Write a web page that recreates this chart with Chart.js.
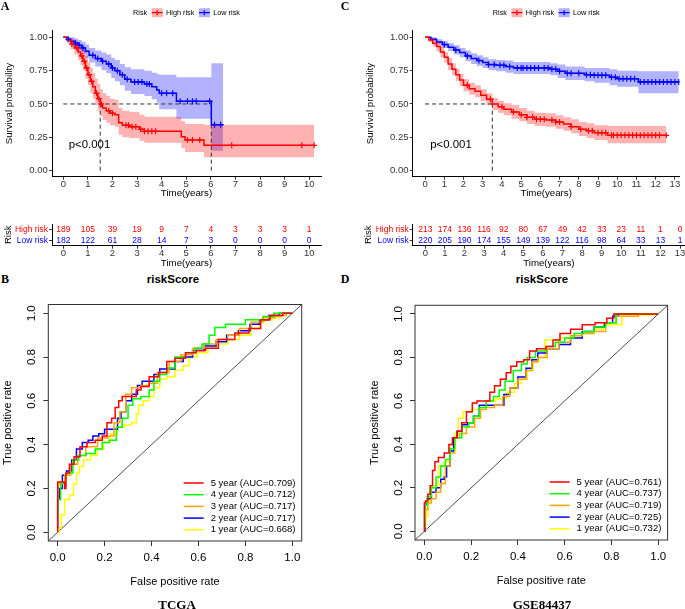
<!DOCTYPE html>
<html>
<head>
<meta charset="utf-8">
<script src="https://cdn.jsdelivr.net/npm/chart.js@4.4.0/dist/chart.umd.min.js"></script>
<style>
  body { margin: 0; background: #fff; }
  #fig { position: relative; width: 685px; height: 609px; overflow: hidden; background: #fff; }
  canvas { position: absolute; }
  .lbl { position: absolute; white-space: nowrap; line-height: 1; transform: translate(-50%, -50%); color: #000; }
  .letra { font: bold 12px "Liberation Serif", "Times New Roman", serif; }
  .sub { font: bold 11.5px "Liberation Sans", Arial, sans-serif; }
  .ds { font: bold 13px "Liberation Serif", "Times New Roman", serif; }
</style>
</head>
<body>
<div id="fig">
  <canvas id="kmA" width="340" height="200" style="left:0;top:0"></canvas>
  <canvas id="kmC" width="345" height="200" style="left:340px;top:0"></canvas>
  <canvas id="riskA" width="340" height="70" style="left:0;top:200px"></canvas>
  <canvas id="riskC" width="345" height="70" style="left:340px;top:200px"></canvas>
  <canvas id="rocB" width="340" height="309" style="left:0;top:300px"></canvas>
  <canvas id="rocD" width="345" height="309" style="left:340px;top:300px"></canvas>

  <div class="lbl letra" style="left:5px;top:6px">A</div>
  <div class="lbl letra" style="left:345px;top:6px">C</div>
  <div class="lbl letra" style="left:5px;top:279px">B</div>
  <div class="lbl letra" style="left:345px;top:279px">D</div>
  <div class="lbl sub" style="left:173px;top:279px">riskScore</div>
  <div class="lbl sub" style="left:542px;top:279px">riskScore</div>
  <div class="lbl ds" style="left:177px;top:605px">TCGA</div>
  <div class="lbl ds" style="left:542px;top:605px">GSE84437</div>
</div>
<script>
const sans = '"Liberation Sans", Arial, sans-serif'
Chart.defaults.font.family = sans
Chart.defaults.color = '#000'

// ---------- datos: Kaplan-Meier TCGA (A) ----------
const riskGroups = ['High risk', 'Low risk']

const aHighT  = [0, 0.15, 0.3, 0.45, 0.6, 0.7, 0.8, 0.9, 1.0, 1.1, 1.2, 1.3, 1.4, 1.5, 1.6, 1.75, 1.9, 2.1, 2.25, 2.4, 2.7, 3.1, 3.3, 4.8, 4.95, 5.72, 10.2]
const aHighS  = [1, 0.98, 0.95, 0.92, 0.89, 0.86, 0.82, 0.77, 0.72, 0.67, 0.63, 0.58, 0.54, 0.50, 0.47, 0.45, 0.43, 0.42, 0.36, 0.34, 0.33, 0.31, 0.295, 0.255, 0.23, 0.19, 0.19]
const aHighUp = [1, 1, 0.99, 0.97, 0.95, 0.93, 0.90, 0.86, 0.81, 0.77, 0.73, 0.69, 0.65, 0.61, 0.58, 0.56, 0.54, 0.53, 0.47, 0.45, 0.44, 0.42, 0.405, 0.37, 0.35, 0.345, 0.345]
const aHighLo = [1, 0.96, 0.91, 0.87, 0.83, 0.79, 0.75, 0.69, 0.64, 0.58, 0.54, 0.49, 0.45, 0.41, 0.38, 0.36, 0.34, 0.33, 0.27, 0.25, 0.245, 0.225, 0.21, 0.17, 0.14, 0.10, 0.10]
const aHighCens = [0.35, 0.55, 0.75, 0.85, 0.95, 1.05, 1.15, 1.35, 1.45, 1.55, 1.85, 2.0, 2.55, 2.65, 2.8, 2.95, 3.15, 3.3, 3.45, 3.6, 3.75, 5.05, 5.25, 5.55, 6.85, 9.7, 10.2]

const aLowT  = [0, 0.15, 0.3, 0.45, 0.6, 0.75, 0.9, 1.05, 1.3, 1.55, 1.75, 1.95, 2.1, 2.3, 2.5, 2.75, 3.3, 3.6, 3.8, 3.9, 4.6, 6.02, 6.5]
const aLowS  = [1, 0.985, 0.97, 0.955, 0.94, 0.92, 0.895, 0.865, 0.84, 0.82, 0.80, 0.77, 0.75, 0.72, 0.685, 0.665, 0.65, 0.63, 0.605, 0.58, 0.52, 0.345, 0.345]
const aLowUp = [1, 1, 1, 0.99, 0.98, 0.965, 0.945, 0.92, 0.90, 0.885, 0.87, 0.845, 0.83, 0.80, 0.775, 0.76, 0.75, 0.735, 0.725, 0.72, 0.70, 0.805, 0.805]
const aLowLo = [1, 0.97, 0.94, 0.92, 0.90, 0.875, 0.845, 0.81, 0.78, 0.755, 0.73, 0.695, 0.67, 0.64, 0.60, 0.575, 0.56, 0.535, 0.51, 0.46, 0.39, 0.15, 0.15]
const aLowCens = [0.2, 0.5, 0.65, 0.8, 1.2, 1.4, 1.6, 1.85, 2.0, 2.2, 2.4, 2.6, 2.9, 3.05, 3.2, 3.4, 3.5, 4.0, 4.2, 4.45, 4.75, 5.05, 5.25, 5.4, 5.95, 6.15, 6.4]

// ---------- datos: Kaplan-Meier GSE84437 (C) ----------
const cHighT  = [0, 0.2, 0.4, 0.6, 0.8, 1.0, 1.2, 1.4, 1.6, 1.8, 2.0, 2.3, 2.6, 2.9, 3.2, 3.5, 3.8, 4.1, 4.5, 4.9, 5.3, 5.7, 6.3, 6.8, 7.2, 7.6, 8.0, 8.4, 8.8, 9.5, 12.55]
const cHighS  = [1, 0.98, 0.955, 0.93, 0.89, 0.85, 0.80, 0.76, 0.72, 0.68, 0.64, 0.615, 0.595, 0.565, 0.535, 0.50, 0.48, 0.46, 0.44, 0.42, 0.40, 0.385, 0.38, 0.365, 0.35, 0.33, 0.31, 0.30, 0.285, 0.265, 0.265]
const cHighUp = [1, 1, 0.985, 0.965, 0.93, 0.89, 0.845, 0.805, 0.765, 0.725, 0.685, 0.66, 0.64, 0.61, 0.58, 0.545, 0.525, 0.505, 0.49, 0.47, 0.45, 0.435, 0.43, 0.415, 0.40, 0.385, 0.365, 0.355, 0.34, 0.335, 0.335]
const cHighLo = [1, 0.96, 0.93, 0.895, 0.85, 0.81, 0.755, 0.715, 0.675, 0.635, 0.595, 0.57, 0.55, 0.52, 0.49, 0.455, 0.435, 0.415, 0.39, 0.37, 0.35, 0.335, 0.33, 0.315, 0.30, 0.28, 0.26, 0.245, 0.23, 0.205, 0.205]
const cHighCens = [2.2, 3.4, 4.0, 4.6, 5.0, 5.3, 5.6, 5.8, 6.0, 6.2, 6.6, 6.8, 7.0, 7.6, 8.1, 8.5, 8.7, 9.0, 9.2, 9.4, 9.7, 9.8, 10.0, 10.2, 10.4, 10.6, 10.8, 11.0, 11.2, 11.4, 11.6, 11.8, 12.0, 12.2, 12.55]

const cLowT  = [0, 0.3, 0.6, 0.9, 1.2, 1.5, 1.8, 2.1, 2.4, 2.7, 3.0, 3.3, 3.7, 4.2, 4.6, 5.2, 6.5, 6.9, 7.3, 8.3, 8.8, 9.6, 10.0, 11.1, 13.2]
const cLowS  = [1, 0.985, 0.965, 0.945, 0.925, 0.905, 0.885, 0.86, 0.84, 0.825, 0.81, 0.795, 0.79, 0.78, 0.77, 0.77, 0.76, 0.745, 0.73, 0.72, 0.715, 0.70, 0.69, 0.665, 0.665]
const cLowUp = [1, 1, 0.985, 0.97, 0.955, 0.94, 0.92, 0.90, 0.88, 0.865, 0.85, 0.835, 0.83, 0.825, 0.815, 0.815, 0.805, 0.795, 0.78, 0.77, 0.77, 0.76, 0.75, 0.745, 0.745]
const cLowLo = [1, 0.97, 0.945, 0.92, 0.895, 0.87, 0.85, 0.82, 0.80, 0.785, 0.77, 0.755, 0.745, 0.735, 0.725, 0.725, 0.715, 0.695, 0.68, 0.67, 0.66, 0.64, 0.63, 0.58, 0.58]
const cLowCens = [1.0, 1.6, 2.2, 2.8, 3.3, 3.6, 3.9, 4.1, 4.4, 4.8, 5.0, 5.1, 5.3, 5.5, 5.7, 5.9, 6.2, 6.4, 6.6, 6.8, 7.0, 7.4, 7.6, 8.0, 8.4, 8.6, 8.8, 9.0, 9.2, 9.4, 9.7, 9.9, 10.1, 10.3, 10.5, 10.7, 10.9, 11.2, 11.4, 11.6, 11.8, 12.0, 12.2, 12.4, 12.6, 12.8, 13.0, 13.2]

// ---------- datos: numero en riesgo ----------
const riskTimesA = [0, 1, 2, 3, 4, 5, 6, 7, 8, 9, 10]
const atRiskHighA = [189, 105, 39, 19, 9, 7, 4, 3, 3, 3, 1]
const atRiskLowA  = [182, 122, 61, 28, 14, 7, 3, 0, 0, 0, 0]
const riskTimesC = [0, 1, 2, 3, 4, 5, 6, 7, 8, 9, 10, 11, 12, 13]
const atRiskHighC = [213, 174, 136, 116, 92, 80, 67, 49, 42, 33, 23, 11, 1, 0]
const atRiskLowC  = [220, 205, 190, 174, 155, 149, 139, 122, 116, 98, 64, 33, 13, 1]

// ---------- datos: curvas ROC TCGA (B) ----------
const b5x = [0, 0, 0.03, 0.03, 0.04, 0.06, 0.08, 0.11, 0.14, 0.18, 0.2, 0.22, 0.24, 0.25, 0.27, 0.28, 0.33, 0.34, 0.37, 0.41, 0.45, 0.48, 0.52, 0.57, 0.61, 0.65, 0.72, 0.79, 0.84, 0.89, 0.92, 1]
const b5y = [0, 0.23, 0.23, 0.2, 0.27, 0.31, 0.345, 0.39, 0.41, 0.42, 0.44, 0.5, 0.52, 0.57, 0.6, 0.62, 0.62, 0.65, 0.665, 0.71, 0.73, 0.78, 0.795, 0.82, 0.83, 0.84, 0.88, 0.91, 0.93, 0.97, 0.99, 1]
const b4x = [0, 0.005, 0.02, 0.05, 0.08, 0.1, 0.14, 0.18, 0.2, 0.24, 0.26, 0.29, 0.31, 0.33, 0.38, 0.4, 0.42, 0.45, 0.48, 0.52, 0.57, 0.6, 0.63, 0.66, 0.68, 0.75, 0.85, 0.9, 0.94, 1]
const b4y = [0.06, 0.15, 0.22, 0.27, 0.33, 0.35, 0.36, 0.38, 0.41, 0.42, 0.48, 0.52, 0.58, 0.61, 0.62, 0.65, 0.69, 0.72, 0.75, 0.8, 0.82, 0.84, 0.86, 0.9, 0.935, 0.95, 0.97, 0.985, 1, 1]
const b3x = [0, 0.005, 0.02, 0.04, 0.07, 0.1, 0.14, 0.2, 0.23, 0.25, 0.28, 0.3, 0.33, 0.38, 0.4, 0.45, 0.5, 0.55, 0.6, 0.65, 0.7, 0.75, 0.8, 0.85, 0.9, 0.95, 1]
const b3y = [0.1, 0.22, 0.23, 0.26, 0.31, 0.35, 0.39, 0.43, 0.44, 0.5, 0.55, 0.63, 0.66, 0.67, 0.68, 0.73, 0.78, 0.81, 0.84, 0.86, 0.88, 0.9, 0.93, 0.96, 0.98, 0.99, 1]
const b2x = [0, 0, 0.015, 0.025, 0.05, 0.07, 0.09, 0.12, 0.14, 0.16, 0.19, 0.21, 0.25, 0.26, 0.28, 0.3, 0.33, 0.35, 0.37, 0.4, 0.42, 0.45, 0.48, 0.52, 0.55, 0.6, 0.65, 0.7, 0.74, 0.8, 0.84, 0.88, 0.92, 0.97, 1]
const b2y = [0.02, 0.15, 0.2, 0.26, 0.28, 0.33, 0.38, 0.41, 0.42, 0.44, 0.45, 0.47, 0.47, 0.52, 0.55, 0.6, 0.63, 0.67, 0.69, 0.69, 0.72, 0.745, 0.745, 0.78, 0.8, 0.83, 0.85, 0.87, 0.9, 0.92, 0.95, 0.97, 0.99, 1, 1]
const b1x = [0, 0.01, 0.02, 0.04, 0.06, 0.075, 0.085, 0.1, 0.12, 0.16, 0.18, 0.21, 0.24, 0.27, 0.3, 0.33, 0.34, 0.35, 0.38, 0.4, 0.42, 0.45, 0.48, 0.52, 0.55, 0.57, 0.62, 0.66, 0.7, 0.75, 0.8, 0.85, 0.87, 0.9, 0.93, 0.97, 1]
const b1y = [0, 0.02, 0.08, 0.15, 0.17, 0.22, 0.27, 0.3, 0.33, 0.35, 0.38, 0.41, 0.45, 0.48, 0.49, 0.5, 0.54, 0.58, 0.6, 0.62, 0.66, 0.7, 0.71, 0.74, 0.76, 0.8, 0.82, 0.84, 0.86, 0.88, 0.9, 0.93, 0.96, 0.97, 0.98, 1, 1]

// ---------- datos: curvas ROC GSE84437 (D) ----------
const d5x = [0, 0, 0.01, 0.02, 0.03, 0.04, 0.05, 0.07, 0.1, 0.11, 0.13, 0.15, 0.17, 0.19, 0.22, 0.23, 0.27, 0.29, 0.31, 0.34, 0.36, 0.38, 0.41, 0.44, 0.46, 0.5, 0.54, 0.56, 0.6, 0.65, 0.7, 0.76, 0.8, 0.82, 1]
const d5y = [0, 0.13, 0.14, 0.17, 0.21, 0.28, 0.32, 0.34, 0.36, 0.4, 0.43, 0.46, 0.5, 0.55, 0.59, 0.6, 0.6, 0.64, 0.67, 0.7, 0.73, 0.76, 0.78, 0.79, 0.83, 0.84, 0.85, 0.88, 0.91, 0.93, 0.95, 0.96, 0.98, 1, 1]
const d4x = [0, 0.005, 0.02, 0.04, 0.06, 0.08, 0.1, 0.12, 0.14, 0.18, 0.2, 0.22, 0.25, 0.28, 0.31, 0.33, 0.36, 0.4, 0.43, 0.45, 0.5, 0.54, 0.58, 0.62, 0.66, 0.7, 0.75, 0.8, 0.84, 1]
const d4y = [0.02, 0.12, 0.16, 0.2, 0.25, 0.3, 0.33, 0.38, 0.43, 0.48, 0.5, 0.53, 0.57, 0.6, 0.62, 0.65, 0.69, 0.74, 0.77, 0.8, 0.83, 0.85, 0.87, 0.89, 0.91, 0.92, 0.94, 0.96, 1, 1]
const d3x = [0, 0.01, 0.02, 0.04, 0.06, 0.08, 0.1, 0.12, 0.14, 0.16, 0.2, 0.23, 0.25, 0.28, 0.32, 0.35, 0.38, 0.42, 0.45, 0.47, 0.5, 0.55, 0.6, 0.65, 0.7, 0.75, 0.8, 0.84, 0.9, 0.93, 1]
const d3y = [0.04, 0.1, 0.13, 0.15, 0.18, 0.22, 0.3, 0.36, 0.43, 0.45, 0.48, 0.52, 0.56, 0.57, 0.58, 0.62, 0.66, 0.7, 0.74, 0.78, 0.8, 0.84, 0.87, 0.9, 0.91, 0.92, 0.96, 0.99, 0.99, 1, 1]
const d2x = [0, 0.005, 0.02, 0.04, 0.06, 0.08, 0.09, 0.1, 0.12, 0.13, 0.15, 0.17, 0.2, 0.22, 0.25, 0.33, 0.35, 0.38, 0.42, 0.45, 0.47, 0.5, 0.55, 0.6, 0.65, 0.7, 0.75, 0.79, 0.82, 0.84, 1]
const d2y = [0, 0.12, 0.15, 0.18, 0.2, 0.24, 0.25, 0.3, 0.37, 0.43, 0.46, 0.49, 0.5, 0.53, 0.58, 0.58, 0.63, 0.66, 0.71, 0.75, 0.79, 0.82, 0.84, 0.86, 0.89, 0.92, 0.94, 0.96, 0.99, 1, 1]
const d1x = [0, 0.01, 0.02, 0.03, 0.05, 0.07, 0.1, 0.12, 0.14, 0.15, 0.18, 0.22, 0.25, 0.28, 0.33, 0.37, 0.4, 0.43, 0.45, 0.48, 0.5, 0.53, 0.56, 0.6, 0.65, 0.7, 0.75, 0.78, 0.84, 0.85, 0.95, 1]
const d1y = [0, 0.07, 0.14, 0.2, 0.21, 0.3, 0.32, 0.4, 0.45, 0.52, 0.55, 0.56, 0.57, 0.6, 0.61, 0.64, 0.68, 0.7, 0.74, 0.78, 0.8, 0.88, 0.88, 0.89, 0.9, 0.91, 0.93, 0.95, 0.95, 0.99, 0.995, 1]

const rocYears = [5, 4, 3, 2, 1]
const aucB = [0.709, 0.712, 0.717, 0.717, 0.668]
const aucD = [0.761, 0.737, 0.719, 0.725, 0.732]

// ---------- ticks ----------
const timeTicksA = [0, 1, 2, 3, 4, 5, 6, 7, 8, 9, 10]
const timeTicksC = [0, 1, 2, 3, 4, 5, 6, 7, 8, 9, 10, 11, 12, 13]
const survTicks = [0, 0.25, 0.5, 0.75, 1]
const rocTicks = [0, 0.2, 0.4, 0.6, 0.8, 1]
const rocMin = -0.04, rocMax = 1.04

// ---------- helpers ----------
const pts = (xs, ys) => xs.map((x, i) => ({x: x, y: ys[i]}))
const setTicks = arr => s => { s.ticks = arr.map(v => ({value: v})) }
const fitX = (H, a) => s => { s.height = H - a.bottom; s.paddingLeft = 0; s.paddingRight = 0 }
const fitY = a => s => { s.width = a.left; s.paddingTop = 0; s.paddingBottom = 0 }
const padArea = (W, a) => ({ left: 0, top: a.top, right: W - a.right, bottom: 0 })
const survAt = (g, t) => { let v = g.s[0]; g.t.forEach((ti, i) => { if (ti <= t) v = g.s[i] }); return v }

const leyendaKM = {
  id: 'leyendaKM',
  afterDraw(chart, args, o) {
    const {ctx, chartArea: a} = chart
    ctx.save()
    ctx.font = '7.3px ' + sans
    ctx.textBaseline = 'middle'
    const kw = 11, kh = 9, g1 = 4.5, g2 = 3.3
    let total = ctx.measureText('Risk').width
    o.grupos.forEach(g => total += g1 + kw + g2 + ctx.measureText(g.nombre).width)
    let x = (a.left + a.right) / 2 - total / 2
    const y = 12.7
    ctx.fillStyle = '#000'
    ctx.fillText('Risk', x, y)
    x += ctx.measureText('Risk').width
    o.grupos.forEach(g => {
      x += g1
      ctx.fillStyle = g.fill
      ctx.fillRect(x, y - kh / 2, kw, kh)
      ctx.strokeStyle = g.color
      ctx.lineWidth = 1.3
      ctx.beginPath()
      ctx.moveTo(x, y); ctx.lineTo(x + kw, y)
      ctx.moveTo(x + kw / 2, y - 2.5); ctx.lineTo(x + kw / 2, y + 2.5)
      ctx.stroke()
      x += kw + g2
      ctx.fillStyle = '#000'
      ctx.fillText(g.nombre, x, y)
      x += ctx.measureText(g.nombre).width
    })
    ctx.restore()
  }
}

const textoP = {
  id: 'textoP',
  afterDatasetsDraw(chart, args, o) {
    const {ctx, scales} = chart
    ctx.save()
    ctx.font = '11.4px ' + sans
    ctx.fillStyle = '#000'
    ctx.textBaseline = 'middle'
    ctx.fillText('p<0.001', scales.x.getPixelForValue(o.x), scales.y.getPixelForValue(o.y))
    ctx.restore()
  }
}

function crearKM(id, W, H, area, xr, grupos, xTicks, pX, yPad) {
  const datasets = []
  grupos.forEach(g => {
    datasets.push({ data: pts(g.t, g.up), stepped: true, borderWidth: 0, borderColor: 'transparent', pointRadius: 0, fill: '+1', backgroundColor: g.fill, order: 5 })
    datasets.push({ data: pts(g.t, g.lo), stepped: true, borderWidth: 0, borderColor: 'transparent', pointRadius: 0, fill: false, order: 5 })
  })
  // mediana
  const medianas = grupos.map(g => { const i = g.s.findIndex(v => v <= 0.5); return i < 0 ? null : g.t[i] }).filter(v => v !== null)
  const mMax = Math.max(...medianas)
  const dash = { borderColor: '#333', borderWidth: 1, borderDash: [4, 3], pointRadius: 0, fill: false, order: 3 }
  datasets.push(Object.assign({ data: [{x: 0, y: 0.5}, {x: mMax, y: 0.5}] }, dash))
  medianas.forEach(m => datasets.push(Object.assign({ data: [{x: m, y: 0}, {x: m, y: 0.5}] }, dash)))
  grupos.forEach(g => {
    datasets.push({ data: pts(g.t, g.s), stepped: true, borderColor: g.color, borderWidth: 1.5, pointRadius: 0, fill: false, order: 1 })
    datasets.push({ data: g.cens.map(t => ({x: t, y: survAt(g, t)})), showLine: false, pointStyle: 'cross', pointRadius: 3, pointBorderColor: g.color, pointBorderWidth: 1.2, order: 0 })
  })
  new Chart(document.getElementById(id), {
    type: 'line',
    data: { datasets: datasets },
    options: {
      responsive: false, animation: false, devicePixelRatio: 1, events: [],
      layout: { padding: padArea(W, area) },
      scales: {
        x: {
          type: 'linear', min: xr[0], max: xr[1],
          afterBuildTicks: setTicks(xTicks), afterFit: fitX(H, area),
          grid: { drawOnChartArea: false, tickLength: 3, color: '#333' },
          border: { display: true, color: '#000', width: 1 },
          ticks: { color: '#333', padding: 0, autoSkip: false, font: { size: 9.5, lineHeight: 1 } },
          title: { display: true, text: 'Time(years)', font: { size: 9.7 }, padding: { top: 0, bottom: 1 } }
        },
        y: {
          type: 'linear', min: -0.045, max: 1.05,
          afterBuildTicks: setTicks(survTicks), afterFit: fitY(area),
          grid: { drawOnChartArea: false, tickLength: 3, color: '#333' },
          border: { display: true, color: '#000', width: 1 },
          ticks: { color: '#333', padding: 1.2, font: { size: 9.5, lineHeight: 1 }, callback: v => v.toFixed(2) },
          title: { display: true, text: 'Survival probability', font: { size: 9.7 }, padding: { top: yPad, bottom: 0 } }
        }
      },
      plugins: { legend: { display: false }, tooltip: { enabled: false }, leyendaKM: { grupos: grupos }, textoP: { x: pX, y: 0.19 } }
    },
    plugins: [leyendaKM, textoP]
  })
}

const numerosTabla = {
  id: 'numerosTabla',
  afterDatasetsDraw(chart) {
    const ctx = chart.ctx
    ctx.save()
    ctx.font = '8.5px ' + sans
    ctx.textAlign = 'center'
    ctx.textBaseline = 'middle'
    chart.data.datasets.forEach((ds, i) => {
      ctx.fillStyle = ds.color
      chart.getDatasetMeta(i).data.forEach((el, j) => ctx.fillText(String(ds.conteos[j]), el.x, el.y))
    })
    ctx.restore()
  }
}

function crearTabla(id, W, H, area, xr, xTicks, tiempos, filas, yPad) {
  new Chart(document.getElementById(id), {
    type: 'scatter',
    data: { datasets: filas.map(f => ({ data: tiempos.map(t => ({x: t, y: f.nombre})), pointRadius: 0, conteos: f.n, color: f.color })) },
    options: {
      responsive: false, animation: false, devicePixelRatio: 1, events: [],
      layout: { padding: padArea(W, area) },
      scales: {
        x: {
          type: 'linear', min: xr[0], max: xr[1],
          afterBuildTicks: setTicks(xTicks), afterFit: fitX(H, area),
          grid: { drawOnChartArea: false, tickLength: 3, color: '#333' },
          border: { display: true, color: '#000', width: 1 },
          ticks: { color: '#333', padding: 0, autoSkip: false, font: { size: 9.5, lineHeight: 1 } },
          title: { display: true, text: 'Time(years)', font: { size: 9.7 }, padding: { top: 0, bottom: 1 } }
        },
        y: {
          type: 'category', labels: riskGroups, offset: true, afterFit: fitY(area),
          grid: { drawOnChartArea: false, tickLength: 3, color: '#333', offset: false },
          border: { display: true, color: '#000', width: 1 },
          ticks: { padding: 1, autoSkip: false, font: { size: 8.5, lineHeight: 1 }, color: c => filas[c.index] ? filas[c.index].color : '#000' },
          title: { display: true, text: 'Risk', font: { size: 9.5 }, padding: { top: yPad, bottom: 0 } }
        }
      },
      plugins: { legend: { display: false }, tooltip: { enabled: false } }
    },
    plugins: [numerosTabla]
  })
}

const cajaR = {
  id: 'cajaR',
  afterDraw(chart) {
    const {ctx, chartArea: a} = chart
    ctx.save()
    ctx.strokeStyle = '#333'
    ctx.lineWidth = 1
    ctx.strokeRect(a.left, a.top, a.width, a.height)
    ctx.restore()
  }
}

const leyendaROC = {
  id: 'leyendaROC',
  afterDatasetsDraw(chart, args, o) {
    const {ctx, chartArea: a} = chart
    ctx.save()
    ctx.font = '9.5px ' + sans
    ctx.textBaseline = 'middle'
    o.curvas.forEach((c, i) => {
      const y = a.bottom - 58 + i * 11.7
      ctx.strokeStyle = c.color
      ctx.lineWidth = 1.5
      ctx.beginPath(); ctx.moveTo(a.right - 118, y); ctx.lineTo(a.right - 98, y); ctx.stroke()
      ctx.fillStyle = '#000'
      ctx.fillText(rocYears[i] + ' year (AUC=' + o.aucs[i].toFixed(3) + ')', a.right - 91, y)
    })
    ctx.restore()
  }
}

function crearROC(id, W, H, area, curvas, aucs, yPad, xPad) {
  const datasets = curvas.map(c => ({ data: pts(c.x, c.y), stepped: 'middle', borderColor: c.color, borderWidth: 1.5, pointRadius: 0, fill: false }))
  datasets.push({ data: [{x: rocMin, y: rocMin}, {x: rocMax, y: rocMax}], borderColor: '#000', borderWidth: 0.7, pointRadius: 0, fill: false })
  const eje = {
    type: 'linear', min: rocMin, max: rocMax, afterBuildTicks: setTicks(rocTicks),
    grid: { drawOnChartArea: false, tickLength: 5, color: '#333' },
    border: { display: false },
    title: { display: true, font: { size: 11 } }
  }
  new Chart(document.getElementById(id), {
    type: 'line',
    data: { datasets: datasets },
    options: {
      responsive: false, animation: false, devicePixelRatio: 1, events: [],
      layout: { padding: padArea(W, area) },
      scales: {
        x: Object.assign({}, eje, {
          afterFit: fitX(H, area),
          ticks: { padding: 6.2, autoSkip: false, font: { size: 11.5, lineHeight: 1 }, callback: v => v.toFixed(1) },
          title: { display: true, text: 'False positive rate', font: { size: 11 }, padding: { top: 0, bottom: xPad } }
        }),
        y: Object.assign({}, eje, {
          afterFit: fitY(area),
          ticks: { padding: 3.6, autoSkip: false, minRotation: 90, maxRotation: 90, crossAlign: 'center', font: { size: 11.5, lineHeight: 1 }, callback: v => v.toFixed(1) },
          title: { display: true, text: 'True positive rate', font: { size: 11 }, padding: { top: yPad, bottom: 0 } }
        })
      },
      plugins: { legend: { display: false }, tooltip: { enabled: false }, leyendaROC: { curvas: curvas, aucs: aucs } }
    },
    plugins: [cajaR, leyendaROC]
  })
}

// ---------- construir ----------
const rojo = '#ff0000', azul = '#0000ff'
const rosa = 'rgba(255,0,0,0.3)', celeste = 'rgba(0,0,255,0.3)'

crearKM('kmA', 340, 200, {left: 52, top: 30.6, right: 321, bottom: 176.7}, [-0.46, 10.48], [
  { nombre: riskGroups[0], t: aHighT, s: aHighS, up: aHighUp, lo: aHighLo, cens: aHighCens, color: rojo, fill: rosa },
  { nombre: riskGroups[1], t: aLowT, s: aLowS, up: aLowUp, lo: aLowLo, cens: aLowCens, color: azul, fill: celeste }
], timeTicksA, 0.22, 3.2)

crearKM('kmC', 345, 200, {left: 72.7, top: 30.6, right: 345, bottom: 176.7}, [-0.643, 13.255], [
  { nombre: riskGroups[0], t: cHighT, s: cHighS, up: cHighUp, lo: cHighLo, cens: cHighCens, color: rojo, fill: rosa },
  { nombre: riskGroups[1], t: cLowT, s: cLowS, up: cLowUp, lo: cLowLo, cens: cLowCens, color: azul, fill: celeste }
], timeTicksC, 0.27, 24.2)

crearTabla('riskA', 340, 70, {left: 52, top: 24, right: 321, bottom: 45.7}, [-0.46, 10.48], timeTicksA, riskTimesA, [
  { nombre: riskGroups[0], n: atRiskHighA, color: rojo },
  { nombre: riskGroups[1], n: atRiskLowA, color: azul }
], 2.3)

crearTabla('riskC', 345, 70, {left: 72.7, top: 24, right: 345, bottom: 45.7}, [-0.643, 13.255], timeTicksC, riskTimesC, [
  { nombre: riskGroups[0], n: atRiskHighC, color: rojo },
  { nombre: riskGroups[1], n: atRiskLowC, color: azul }
], 23)

crearROC('rocB', 340, 309, {left: 48.3, top: 4.5, right: 301.7, bottom: 241}, [
  { x: b5x, y: b5y, color: '#ff0000' },
  { x: b4x, y: b4y, color: '#00ff00' },
  { x: b3x, y: b3y, color: '#ffa500' },
  { x: b2x, y: b2y, color: '#0000ff' },
  { x: b1x, y: b1y, color: '#ffff00' }
], aucB, 1.7, 20.4)

crearROC('rocD', 345, 309, {left: 75, top: 5.3, right: 327.6, bottom: 240}, [
  { x: d5x, y: d5y, color: '#ff0000' },
  { x: d4x, y: d4y, color: '#00ff00' },
  { x: d3x, y: d3y, color: '#ffa500' },
  { x: d2x, y: d2y, color: '#0000ff' },
  { x: d1x, y: d1y, color: '#ffff00' }
], aucD, 28.7, 21.4)
</script>
</body>
</html>
